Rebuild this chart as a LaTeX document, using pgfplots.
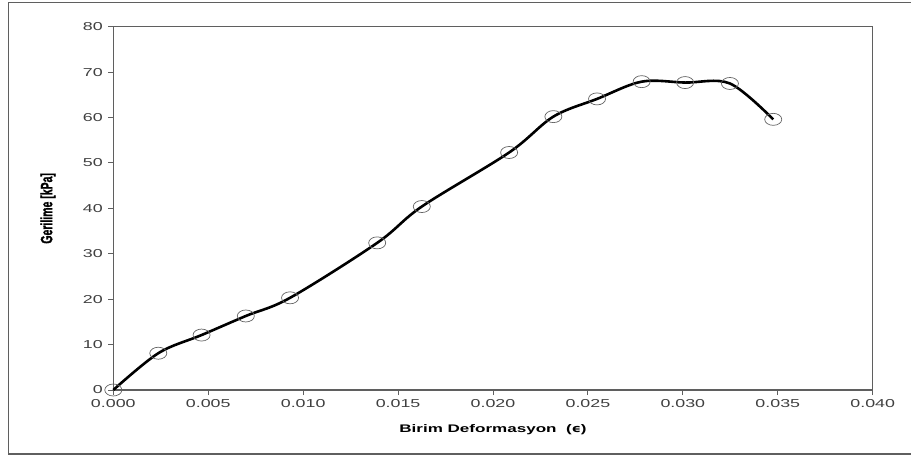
\documentclass[border=0pt]{standalone}
\usepackage{pgfplots}
\pgfplotsset{compat=1.18}
\usepackage{fontspec}
\setmainfont{Liberation Sans}
\newfontfamily\widefont[FakeStretch=1.55]{Liberation Sans}
\newfontfamily\widegreek[FakeStretch=1.3]{DejaVu Sans}
\newfontfamily\heavyfont[FakeBold=1.5]{Liberation Sans Bold}

\definecolor{axisgray}{RGB}{95,95,95}
\definecolor{markgray}{RGB}{100,100,100}

\pgfplotstableread{
strain   stress
0.00000   0.0
0.00237   8.1
0.00465  12.1
0.00698  16.3
0.00931  20.3
0.01390  32.4
0.01625  40.4
0.02085  52.3
0.02318  60.2
0.02548  64.1
0.02783  67.9
0.03012  67.7
0.03248  67.5
0.03476  59.6
}\curvedata

\begin{document}
\begin{tikzpicture}[x=1pt,y=1pt]
\useasboundingbox (0,0) rectangle (911,456);
% outer chart frame
\draw[axisgray, line width=1.3pt] (912,453.7) -- (8.3,453.7) -- (8.3,2) -- (912,2);
\begin{axis}[
  at={(113.3pt,66pt)}, anchor=south west,
  scale only axis, width=759.4pt, height=363.3pt,
  xmin=0, xmax=0.040, ymin=0, ymax=80,
  xtick={0,0.005,...,0.040}, ytick={0,10,...,80},
  tick align=outside, xtick pos=bottom, ytick pos=left,
  major tick length=5pt,
  axis line style={axisgray, line width=1.2pt},
  tick style={axisgray, line width=1pt},
  scaled x ticks=false,
  x tick label style={/pgf/number format/.cd, fixed, fixed zerofill, precision=3, /tikz/.cd, yshift=-1pt},
  y tick label style={xshift=-2pt},
  /pgf/number format/assume math mode=true,
  tick label style={font=\widefont\fontsize{11.5}{12}\selectfont, text=black!75},
  xlabel={\widefont\bfseries Birim Deformasyon \ ({\widegreek\bfseries ϵ})},
  xlabel style={at={(axis description cs:0.5,-0.108)}, anchor=center, font=\fontsize{11}{12}\selectfont},
  ylabel={\scalebox{1}[1.55]{\heavyfont Gerilime [kPa]}},
  ylabel style={at={(axis description cs:-0.086,0.5)}, anchor=center, rotate=0, font=\fontsize{10.5}{12}\selectfont},
  clip=false,
]
\addplot[only marks, mark=o, mark size=6pt,
  mark options={xscale=1.42, draw=markgray, line width=0.7pt}] table[x=strain, y=stress] {\curvedata};
\addplot[black, line width=2.6pt, smooth, tension=0.55] table[x=strain, y=stress] {\curvedata};
\end{axis}
\end{tikzpicture}
\end{document}
